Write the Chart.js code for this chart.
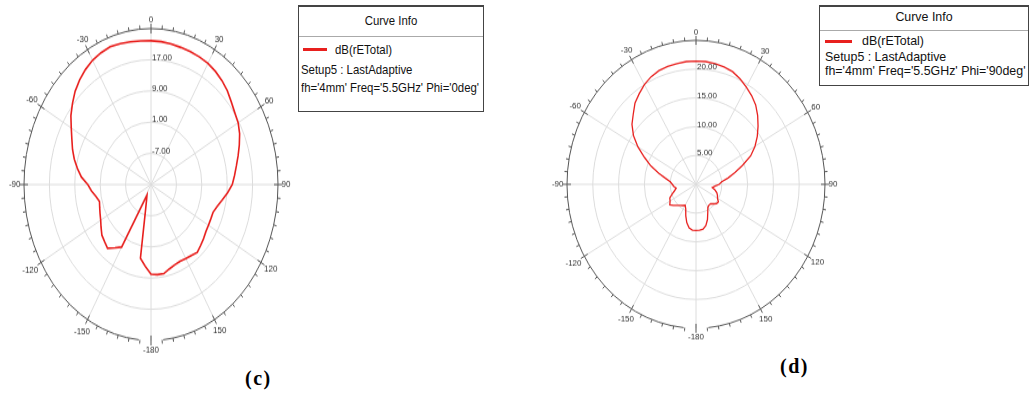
<!DOCTYPE html>
<html>
<head>
<meta charset="utf-8">
<script src="https://cdn.jsdelivr.net/npm/chart.js@4.4.1/dist/chart.umd.min.js"></script>
<style>
  body { margin: 0; width: 1031px; height: 394px; background: #fff; position: relative; overflow: hidden; font-family: "Liberation Sans", Arial, sans-serif; }
  .plot { position: absolute; transform-origin: 0 0; }
  .legend { position: absolute; box-sizing: border-box; border: 1px solid #444; border-top-width: 2px; background: #fff; color: #111; }
  .legend div { position: absolute; white-space: nowrap; }
  .legend .sep { left: 0; right: 0; height: 0; border-top: 1px solid #aaa; }
  .legend .swatch { height: 3px; background: #e8201e; }
  .tag { position: absolute; font-family: "Liberation Serif", "Times New Roman", serif; font-weight: bold; font-size: 20px; letter-spacing: 1.5px; }
</style>
</head>
<body>

<div class="plot" id="plotC" style="left:4px;top:4px;transform:scaleY(1.228)">
  <canvas id="chartC" width="294" height="294"></canvas>
</div>
<div class="plot" id="plotD" style="left:547px;top:17.7px;transform:scaleY(1.116)">
  <canvas id="chartD" width="298" height="298"></canvas>
</div>

<div class="legend" style="left:298px;top:5px;width:186px;height:107px;font-size:11.4px">
  <div style="left:0;right:0;top:7px;text-align:center;transform:scaleY(1.18)">Curve Info</div>
  <div class="sep" style="top:29px"></div>
  <div class="swatch" style="left:4px;top:41px;width:24px"></div>
  <div style="left:36px;top:36px;transform:scaleY(1.18)">dB(rETotal)</div>
  <div style="left:2px;top:56px;transform:scaleY(1.18)">Setup5 : LastAdaptive</div>
  <div style="left:2px;top:74px;transform:scaleY(1.18)">fh='4mm' Freq='5.5GHz' Phi='0deg'</div>
</div>

<div class="legend" style="left:819px;top:5px;width:210px;height:81px;font-size:12.4px">
  <div style="left:0;right:0;top:3px;text-align:center">Curve Info</div>
  <div class="sep" style="top:23px"></div>
  <div class="swatch" style="left:5px;top:33px;width:27px"></div>
  <div style="left:42px;top:27px">dB(rETotal)</div>
  <div style="left:5px;top:43px">Setup5 : LastAdaptive</div>
  <div style="left:5px;top:57px">fh='4mm' Freq='5.5GHz' Phi='90deg'</div>
</div>

<div class="tag" style="left:245px;top:367px">(c)</div>
<div class="tag" style="left:780px;top:355px">(d)</div>

<script>
// theta in degrees, clockwise from the top (0 .. 175, then -180 .. -5)
const angleLabels = [0, 5, 10, 15, 20, 25, 30, 35, 40, 45, 50, 55, 60, 65, 70, 75, 80, 85,
  90, 95, 100, 105, 110, 115, 120, 125, 130, 135, 140, 145, 150, 155, 160, 165, 170, 175,
  -180, -175, -170, -165, -160, -155, -150, -145, -140, -135, -130, -125, -120, -115, -110, -105,
  -100, -95, -90, -85, -80, -75, -70, -65, -60, -55, -50, -45, -40, -35, -30, -25, -20, -15, -10, -5];

// (c) Phi = 0deg, dB(rETotal)
const gainPhi0 = [21.9, 21.8, 21.6, 21.4, 21.3, 21.1, 20.9, 20.4, 19.8, 19.0, 18.0, 17.2, 16.7, 15.8,
  14.6, 13.4, 12.3, 11.4, 10.6, 9.2, 7.8, 6.6, 5.8, 5.8, 5.9, 6.1, 6.6, 7.1, 7.7, 7.2, 6.9, 6.7,
  6.9, 7.4, 8.2, 8.2,
  8.0, 6.0, 4.2, -8.5, -11.0, -12.0, 3.5, 4.8, 6.3, 5.7, 5.2, 4.2, 3.3, 2.7, 2.2, 1.8, 2.6, 3.8,
  4.9, 7.0, 8.5, 10.0, 11.3, 12.5, 14.0, 15.8, 17.3, 18.8, 20.0, 21.0, 21.8, 22.3, 22.6, 22.4,
  22.2, 22.0];

// (d) Phi = 90deg, dB(rETotal)
const gainPhi90 = [21.4, 21.4, 21.3, 21.1, 20.8, 20.2, 19.5, 18.8, 18.0, 16.9, 15.7, 14.5, 13.2, 11.7,
  9.6, 7.8, 6.3, 5.0, 4.5, 3.7, 3.2, 3.8, 4.3, 4.6, 4.8, 5.3, 5.2, 4.8, 4.4, 4.4, 4.6, 5.4,
  6.5, 7.4, 7.9, 8.0,
  8.0, 8.0, 7.7, 6.9, 5.8, 4.7, 4.2, 4.5, 4.8, 5.2, 5.7, 6.2, 5.8, 5.6, 4.9, 4.3, 3.9, 4.3,
  4.6, 5.0, 6.0, 7.5, 9.3, 11.0, 13.0, 14.8, 16.2, 17.2, 18.4, 19.2, 20.0, 20.6, 21.0, 21.2,
  21.3, 21.4];

// radial ticks (dB)
const ticksC = { min: -15, max: 25, step: 8 };
const ticksD = { min: 0, max: 25, step: 5 };

const gridGray = "#dcdcdc";
const curveRed = "#e8201e";

// outer ring with minor ticks, angle labels and dB labels, all placed from the r scale
const polarFrame = {
  id: "polarFrame",
  afterDatasetsDraw(chart) {
    const s = chart.scales.r;
    const ctx = chart.ctx;
    const R = s.drawingArea;
    const cx = s.xCenter;
    const cy = s.yCenter;
    ctx.save();

    ctx.strokeStyle = "#555";
    ctx.lineWidth = 1;
    const gap = (5.5 * Math.PI) / 180;
    ctx.beginPath();
    ctx.arc(cx, cy, R, Math.PI / 2 + gap, Math.PI / 2 + 2 * Math.PI - gap);
    ctx.stroke();

    angleLabels.forEach((a, i) => {
      const major = a % 30 === 0;
      const p1 = s.getPointPosition(i, major ? R - 4 : R);
      const p2 = s.getPointPosition(i, major ? R + 4 : R + 3);
      ctx.beginPath();
      ctx.moveTo(p1.x, p1.y);
      ctx.lineTo(p2.x, p2.y);
      ctx.stroke();
    });

    ctx.fillStyle = "#333";
    ctx.font = '8px "Liberation Sans", Arial, sans-serif';
    ctx.textAlign = "center";
    ctx.textBaseline = "middle";
    angleLabels.forEach((a, i) => {
      if (a % 30 !== 0) return;
      const txt = String(a);
      const ang = s.getIndexAngle(i);
      const w = ctx.measureText(txt).width;
      const d = R + 3.5 + Math.abs(Math.sin(ang)) * (w / 2) + Math.abs(Math.cos(ang)) * 4;
      const p = s.getPointPosition(i, d);
      ctx.fillText(txt, p.x, p.y);
    });

    ctx.textAlign = "left";
    s.ticks.forEach((t) => {
      if (t.value === s.min || t.value === s.max) return;
      const y = cy - s.getDistanceFromCenterForValue(t.value) - 2;
      ctx.fillText(t.value.toFixed(2), cx + 1, y);
    });

    ctx.restore();
  },
};

function makePolar(id, values, tk, lineWidth) {
  return new Chart(document.getElementById(id), {
    type: "radar",
    data: {
      labels: angleLabels,
      datasets: [
        {
          label: "dB(rETotal)",
          data: values,
          borderColor: curveRed,
          borderWidth: lineWidth,
          fill: false,
          pointRadius: 0,
          tension: 0,
        },
      ],
    },
    options: {
      responsive: false,
      animation: false,
      layout: { padding: 20 },
      plugins: { legend: { display: false }, tooltip: { enabled: false } },
      scales: {
        r: {
          min: tk.min,
          max: tk.max,
          beginAtZero: false,
          startAngle: 0,
          ticks: { display: false, stepSize: tk.step },
          pointLabels: { display: false },
          grid: {
            circular: true,
            color: (c) => (c.tick && c.tick.value === tk.max ? "rgba(0,0,0,0)" : gridGray),
          },
          angleLines: {
            color: (c) => (angleLabels[c.index] % 30 === 0 ? gridGray : "rgba(0,0,0,0)"),
          },
        },
      },
    },
    plugins: [polarFrame],
  });
}

makePolar("chartC", gainPhi0, ticksC, 1.6);
makePolar("chartD", gainPhi90, ticksD, 1.3);
</script>
</body>
</html>
